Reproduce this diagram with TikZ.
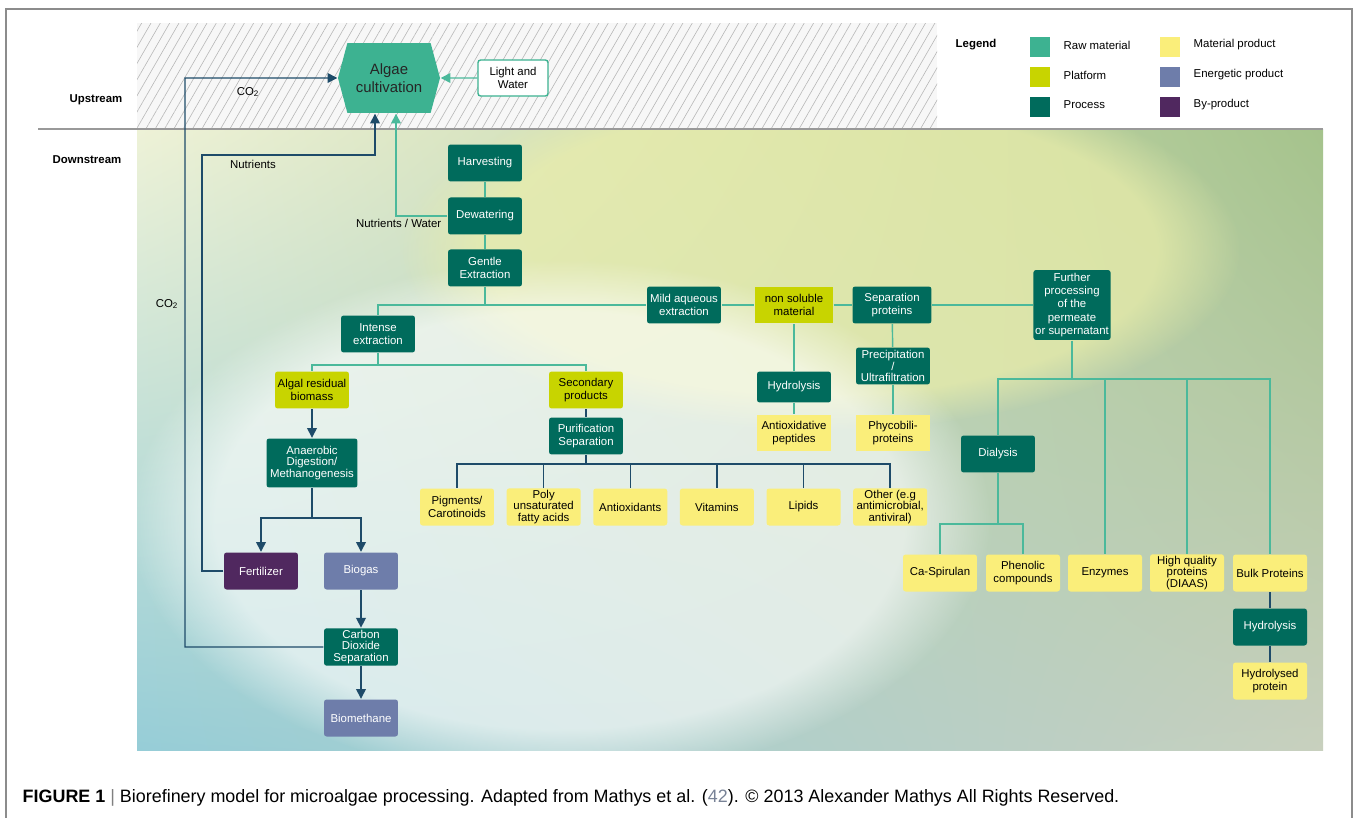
\documentclass[tikz,border=0pt]{standalone}
\usepackage{fontspec}
\setmainfont{Liberation Sans}
\usetikzlibrary{shapes.symbols}
\usetikzlibrary{positioning}
\usetikzlibrary{arrows.meta}
\usetikzlibrary{patterns.meta}
\usetikzlibrary{fadings}
\usetikzlibrary{shadings}

\newcommand{\boxfont}{\fontsize{6.5pt}{7.6pt}\selectfont}
\newcommand{\tightfont}{\fontsize{6.5pt}{6.6pt}\selectfont}

\begin{document}
\begin{tikzpicture}[x=0.02cm,y=-0.02cm,>={Triangle[length=5.5pt,width=5.5pt]},
	line width=0.8pt,node distance=1.06cm,
	box/.style={rectangle,rounded corners=1.5pt,minimum width=1.48cm,minimum height=0.74cm,inner sep=1pt,align=center,font=\boxfont},
	proc/.style={box,fill=procc,text=white},
	plat/.style={box,fill=platc,text=black},
	prod/.style={box,fill=prodc,text=black},
	energ/.style={box,fill=energc,text=white},
	byprod/.style={box,fill=byc,text=white},
	swatch/.style={minimum size=0.4cm,inner sep=0pt},
	dline/.style={color=darkc},
	tline/.style={color=tealc},
	lbl/.style={font=\boxfont,inner sep=0pt}]
	
	\definecolor{rawc}{RGB}{61,178,145}
	\definecolor{platc}{RGB}{200,212,0}
	\definecolor{procc}{RGB}{0,107,92}
	\definecolor{prodc}{RGB}{250,238,122}
	\definecolor{energc}{RGB}{110,125,170}
	\definecolor{byc}{RGB}{80,40,95}
	\definecolor{darkc}{RGB}{30,75,105}
	\definecolor{tealc}{RGB}{75,185,155}
	\definecolor{capblue}{RGB}{120,130,150}
	\definecolor{bgul}{RGB}{238,242,215}
	\definecolor{bgur}{RGB}{165,195,140}
	\definecolor{bgll}{RGB}{150,205,215}
	\definecolor{bglr}{RGB}{200,208,190}
	\definecolor{bgyel}{RGB}{235,238,170}
	
	\useasboundingbox (0,0) rectangle (1357,818);
	\fill[white] (0,0) rectangle (1357,818);
	\draw[black!45,line width=0.6pt] (6,818) -- (6,9) -- (1352,9) -- (1352,818);
	
	\fill[black!3] (137,23) rectangle (937,128);
	\fill[pattern={Lines[angle=60,distance=4.6pt,line width=0.35pt]},pattern color=black!28] (137,23) rectangle (937,128);
	\begin{scope}
		\clip (137,129) rectangle (1323,750);
		\shade[shading=bilinear interpolation,upper left=bgul,upper right=bgur,lower left=bgll,lower right=bglr] (137,129) rectangle (1323,750);
		\fill[bgyel,opacity=0.7,path fading=circle with fuzzy edge 20 percent] (820,250) ellipse [x radius=420,y radius=180];
		\fill[white,opacity=0.6,path fading=circle with fuzzy edge 20 percent] (560,520) ellipse [x radius=430,y radius=260];
	\end{scope}
	\draw[black!40,line width=0.6pt] (38,129) -- (1323,129);
	
	\node[lbl,font=\bfseries\boxfont] (up) at (96,100) {Upstream};
	\node[lbl,font=\bfseries\boxfont] (down) at (87,160) {Downstream};
	
	\node[shape=signal,signal to=east and west,signal pointer angle=150,fill=rawc,text=black!85,
		minimum width=2.04cm,minimum height=1.4cm,inner sep=1pt,align=center,
		font=\fontsize{8.5pt}{10.2pt}\selectfont] (algae) at (389,78) {Algae\\cultivation};
	\node[box,draw=rawc,fill=white,minimum width=1.4cm,minimum height=0.72cm] (light) at (513,78) {Light and\\Water};
	
	\node[proc] (harv) at (485,163) {Harvesting};
	\node[proc] (dew) [below of=harv] {Dewatering};
	\node[proc] (gent) [below of=dew,node distance=1.04cm] {Gentle\\Extraction};
	\node[proc] (intense) at (378,334) {Intense\\extraction};
	\node[plat] (algal) at (312,390) {Algal residual\\biomass};
	\node[plat] (second) at (586,390) {Secondary\\products};
	\node[proc] (purif) at (586,436) {Purification\\Separation};
	\node[proc,font=\tightfont,minimum width=1.82cm,minimum height=0.98cm] (anaer) at (312,463) {Anaerobic\\Digestion/\\Methanogenesis};
	\node[byprod] (fert) at (261,571) {Fertilizer};
	\node[energ] (biogas) at (361,571) {Biogas};
	\node[proc,font=\tightfont] (co2sep) at (361,647) {Carbon\\Dioxide\\Separation};
	\node[energ] (biometh) at (361,718) {Biomethane};
	
	\node[prod] (pig) at (457,507) {Pigments/\\Carotinoids};
	\node[prod,font=\tightfont] (pufa) [right of=pig,node distance=1.733cm] {Poly\\unsaturated\\fatty acids};
	\node[prod] (antiox) [right of=pufa,node distance=1.733cm] {Antioxidants};
	\node[prod] (vit) [right of=antiox,node distance=1.733cm] {Vitamins};
	\node[prod] (lip) [right of=vit,node distance=1.733cm] {Lipids};
	\node[prod,font=\tightfont] (other) [right of=lip,node distance=1.733cm] {Other (e.g\\antimicrobial,\\antiviral)};
	
	\node[proc] (mild) at (684,305) {Mild aqueous\\extraction};
	\node[plat,rounded corners=0pt,minimum width=1.56cm] (nonsol) at (794,305) {non soluble\\material};
	\node[proc,minimum width=1.58cm] (sep) at (892,305) {Separation\\proteins};
	\node[proc,minimum width=1.54cm,minimum height=1.4cm] (further) at (1072,305) {Further\\processing\\of the\\permeate\\or supernatant};
	\node[proc,minimum height=0.62cm] (hydro1) at (794,387) {Hydrolysis};
	\node[prod,rounded corners=0pt] (antpep) at (794,433) {Antioxidative\\peptides};
	\node[proc,font=\tightfont] (precip) at (893,366) {Precipitation\\/\\Ultrafiltration};
	\node[prod,rounded corners=0pt] (phyco) at (893,433) {Phycobili-\\proteins};
	
	\node[proc] (dial) at (998,454) {Dialysis};
	\node[prod] (caspir) at (940,573) {Ca-Spirulan};
	\node[prod] (phen) at (1023,573) {Phenolic\\compounds};
	\node[prod] (enz) at (1105,573) {Enzymes};
	\node[prod,font=\tightfont] (hq) at (1187,573) {High quality\\proteins\\(DIAAS)};
	\node[prod] (bulk) at (1270,573) {Bulk Proteins};
	\node[proc] (hydro2) at (1270,627) {Hydrolysis};
	\node[prod] (hydrol) at (1270,681) {Hydrolysed\\protein};
	
	\coordinate (gbus) at (485,305);
	\coordinate (ibus) at (378,365);
	\coordinate (pbus) at (586,464);
	\coordinate (abus) at (312,518);
	\coordinate (fbus) at (1072,379);
	\coordinate (dbus) at (998,524);
	\coordinate (co2bend) at (185,78);
	\coordinate (nutbend) at (202,155);
	
	\path[tline]
	(harv) edge (dew)
	(dew) edge (gent)
	(gent) edge (gbus)
	(gbus) edge (mild)
	(mild) edge (nonsol)
	(nonsol) edge (sep)
	(sep) edge (further)
	(intense) edge (ibus)
	(nonsol) edge (hydro1)
	(hydro1) edge (antpep)
	(sep) edge (precip)
	(precip) edge (phyco)
	(further) edge (fbus)
	(dial) edge (dbus);
	\path[dline]
	(second) edge (purif)
	(purif) edge (pbus)
	(anaer) edge (abus)
	(bulk) edge (hydro2)
	(hydro2) edge (hydrol);
	\path[dline,->]
	(algal) edge (anaer)
	(biogas) edge (co2sep)
	(co2sep) edge (biometh);
	\path[tline,->] (light) edge (algae);
	
	\draw[tline] (gbus) -| (intense);
	\draw[tline] (ibus) -| (algal);
	\draw[tline] (ibus) -| (second);
	\foreach \n in {pig,pufa,antiox,vit,lip,other}
		\draw[dline] (pbus) -| (\n);
	\foreach \n in {dial,enz,hq,bulk}
		\draw[tline] (fbus) -| (\n);
	\foreach \n in {caspir,phen}
		\draw[tline] (dbus) -| (\n);
	\draw[dline,->] (abus) -| (fert);
	\draw[dline,->] (abus) -| (biogas);
	\draw[dline,->] (co2sep) -| (co2bend) -- (algae);
	\draw[dline,->] (fert) -| (nutbend) -| ([xshift=-0.28cm]algae.south);
	\draw[tline,->] (dew) -| ([xshift=0.14cm]algae.south);
	
	\node[lbl] (co2a) at (248,92) {CO\textsubscript{2}};
	\node[lbl] (co2b) at (167,304) {CO\textsubscript{2}};
	\node[lbl] (nut) at (253,164) {Nutrients};
	\node[lbl,anchor=east] (nutw) at (442,223) {Nutrients / Water};
	
	\node[lbl,font=\bfseries\boxfont,anchor=west] (leg) at (955,45) {Legend};
	\foreach \c/\t [count=\i] in {rawc/Raw material,platc/Platform,procc/Process}{
		\node[swatch,fill=\c] (sw\i) at (1040,17+30*\i) {};
		\node[lbl,anchor=west] (st\i) at (1063,15+30*\i) {\t};
	}
	\foreach \c/\t [count=\i] in {prodc/Material product,energc/Energetic product,byc/By-product}{
		\node[swatch,fill=\c] (sx\i) at (1170,17+30*\i) {};
		\node[lbl,anchor=west] (sy\i) at (1193,15+30*\i) {\t};
	}
	
	\node[anchor=west,inner sep=0pt,font=\fontsize{10.2pt}{12pt}\selectfont] (cap) at (22,798)
	{\textbf{FIGURE 1} \textcolor{black!50}{|} Biorefinery model for microalgae processing. Adapted from Mathys et al. (\textcolor{capblue}{42}). © 2013 Alexander Mathys All Rights Reserved.};
\end{tikzpicture}
\end{document}
